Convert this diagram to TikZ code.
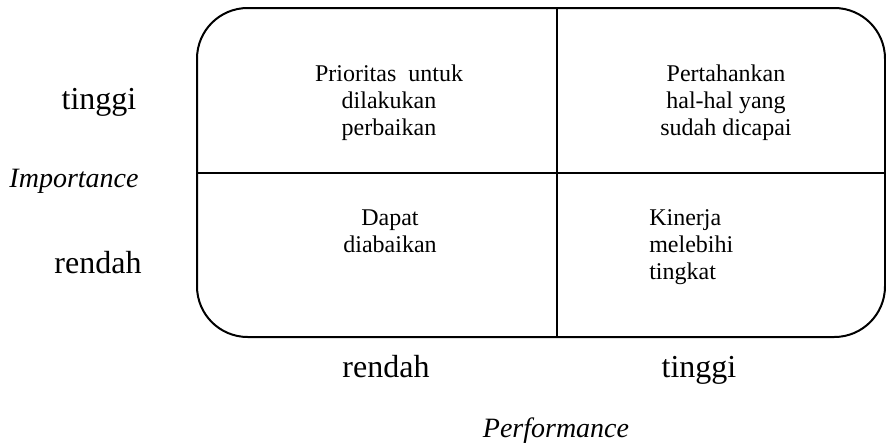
\documentclass[tikz,border=0pt]{standalone}
\usepackage{fontspec}
\setmainfont{Liberation Serif}
\begin{document}
\begin{tikzpicture}[x=0.75pt,y=-0.75pt,
  quad/.style={inner sep=0pt,font=\rmfamily\fontsize{18}{20.25}\selectfont},
  axlab/.style={inner sep=0pt,anchor=base,font=\rmfamily\fontsize{24}{28}\selectfont},
  axtitle/.style={inner sep=0pt,anchor=base,font=\rmfamily\fontsize{21}{24}\selectfont\itshape},
  frame/.style={line width=1.5pt,rounded corners=38pt},
  divider/.style={line width=1.5pt}]
\useasboundingbox (0,0) rectangle (886,443);
% frame
\draw[frame] (197,8) rectangle (885,337);
\coordinate (vt) at (557,8);
\coordinate (vb) at (557,337);
\coordinate (hl) at (197,173);
\coordinate (hr) at (885,173);
\draw[divider] (vt) -- (vb);
\draw[divider] (hl) -- (hr);
% quadrant texts (anchored at the baseline of the last line)
\node[quad,anchor=base,align=center] (q1) at (389,135) {Prioritas\ \ untuk\\dilakukan\\perbaikan};
\node[quad,anchor=base,align=center] (q2) at (726,135) {Pertahankan\\hal-hal yang\\sudah dicapai};
\node[quad,anchor=base,align=center] (q3) at (390,252) {Dapat\\diabaikan};
\node[quad,anchor=base west,align=left] (q4) at (649,279) {Kinerja\\melebihi\\tingkat};
% axis labels
\node[axlab] (ytinggi) at (99,109) {tinggi};
\node[axtitle] (yimp) at (74,187) {Importance};
\node[axlab] (yrendah) at (98,273) {rendah};
\node[axlab] (xrendah) at (386,377) {rendah};
\node[axlab] (xtinggi) at (699,377) {tinggi};
\node[axtitle] (xperf) at (556,437) {Performance};
\end{tikzpicture}
\end{document}
